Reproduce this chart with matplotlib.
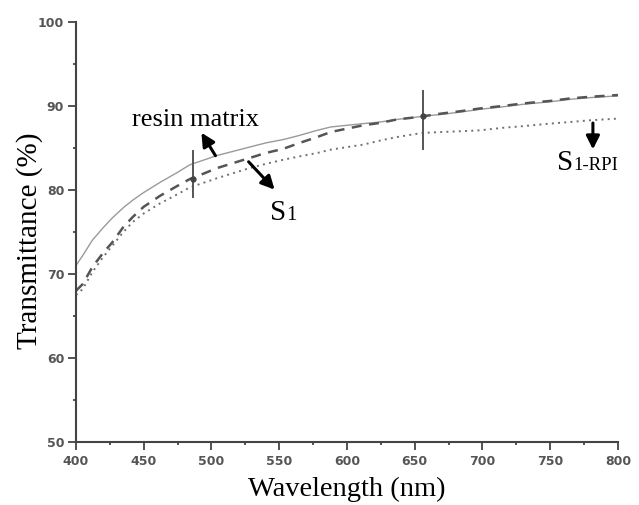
import matplotlib
matplotlib.use('Agg')
import matplotlib.pyplot as plt
import numpy as np

# Transmittance spectra of the cured films (%)
wavelength_nm = [400, 405, 412, 420, 427, 435, 442, 450, 462, 475, 484, 495,
                 504, 516, 528, 540, 553, 565, 578, 588, 600, 612, 625, 637,
                 648, 657, 670, 685, 698, 715, 730, 750, 765, 780, 800]

resin_matrix = [71.0, 72.2, 74.0, 75.5, 76.7, 77.9, 78.8, 79.7, 80.9, 82.1,
                83.0, 83.6, 84.1, 84.6, 85.1, 85.6, 86.0, 86.5, 87.1, 87.5,
                87.7, 87.9, 88.1, 88.4, 88.6, 88.8, 89.0, 89.3, 89.6, 89.9,
                90.2, 90.5, 90.8, 91.0, 91.2]

s1 = [68.0, 68.8, 70.8, 72.5, 73.8, 75.6, 76.8, 78.0, 79.3, 80.5, 81.3, 82.0,
      82.6, 83.2, 83.8, 84.4, 84.9, 85.6, 86.3, 86.9, 87.3, 87.7, 88.0, 88.4,
      88.6, 88.8, 89.1, 89.4, 89.7, 90.0, 90.3, 90.6, 90.9, 91.1, 91.3]

s1_rpi = [67.5, 68.2, 70.2, 72.0, 73.4, 75.0, 76.2, 77.2, 78.4, 79.5, 80.3,
          80.9, 81.4, 82.0, 82.6, 83.1, 83.6, 84.0, 84.4, 84.8, 85.1, 85.4,
          85.9, 86.3, 86.6, 86.8, 86.9, 87.0, 87.1, 87.4, 87.6, 87.9, 88.1,
          88.3, 88.5]

# lamp-line artefacts (nm, low %, high %)
spike_nm = [486, 656]
spike_lo = [79.1, 84.8]
spike_hi = [84.8, 91.9]

x_ticks = [400, 450, 500, 550, 600, 650, 700, 750, 800]
y_ticks = [50, 60, 70, 80, 90, 100]

serif = ['Liberation Serif', 'DejaVu Serif']

fig = plt.figure(figsize=(6.39, 5.05), dpi=100)
ax = fig.add_axes([0.1189, 0.1248, 0.8482, 0.8317])

ax.plot(wavelength_nm, resin_matrix, '-', color='#9a9a9a', lw=1.0)
ax.plot(wavelength_nm, s1, color='#555555', lw=1.8, dashes=(4, 3))
ax.plot(wavelength_nm, s1_rpi, color='#707070', lw=1.4, dashes=(1, 2.2))
ax.vlines(spike_nm, spike_lo, spike_hi, color='#555555', lw=1.4)
ax.plot(spike_nm, [s1[10], s1[25]], 'o', color='#444444', ms=3.5)

ax.set_xlim(400, 800)
ax.set_ylim(50, 100)
ax.set_xticks(x_ticks)
ax.set_yticks(y_ticks)
ax.set_xticks(np.arange(425, 800, 50), minor=True)
ax.set_yticks(np.arange(55, 100, 10), minor=True)

for side in ('top', 'right'):
    ax.spines[side].set_visible(False)
for side in ('left', 'bottom'):
    ax.spines[side].set_color('#444444')
    ax.spines[side].set_linewidth(1.5)

ax.tick_params(which='major', direction='out', length=5.5, width=1.3,
               color='#444444', labelcolor='#555555', labelsize=9)
ax.tick_params(which='minor', direction='out', length=2.5, width=1.3,
               color='#444444')
ax.tick_params(axis='x', which='major', pad=4)
ax.tick_params(axis='y', which='major', pad=3)
for lab in ax.get_xticklabels() + ax.get_yticklabels():
    lab.set_fontweight('bold')
    lab.set_family('DejaVu Sans')

ax.text(0.5, -0.113, 'Wavelength (nm)', transform=ax.transAxes,
        ha='center', va='center', fontsize=20.5, family=serif)
ax.text(-0.085, 0.478, 'Transmittance (%)', transform=ax.transAxes,
        ha='center', va='center', rotation=90, fontsize=21, family=serif)

# curve labels with arrows
arrow = dict(arrowstyle='-|>', color='black', lw=2.2, mutation_scale=20)
ax.annotate('', xy=(491.5, 87.1), xytext=(504, 83.8), arrowprops=arrow)
ax.text(441.3, 87.6, 'resin matrix', ha='left', va='baseline',
        fontsize=19, family=serif)

ax.annotate('', xy=(548, 79.8), xytext=(526, 83.6), arrowprops=arrow)
ax.text(543, 76.4, 'S', ha='left', va='baseline', fontsize=21, family=serif)
ax.annotate('1', xy=(543, 76.4), xytext=(11.5, 0), textcoords='offset points',
            ha='left', va='baseline', fontsize=15, family=serif)

ax.annotate('', xy=(781.5, 84.5), xytext=(781.5, 88.3), arrowprops=arrow)
ax.text(755, 82.4, 'S', ha='left', va='baseline', fontsize=21, family=serif)
ax.annotate('1-RPI', xy=(755, 82.4), xytext=(11.5, 0),
            textcoords='offset points', ha='left', va='baseline',
            fontsize=13.5, family=serif)

fig.savefig('out.png', dpi=100)
